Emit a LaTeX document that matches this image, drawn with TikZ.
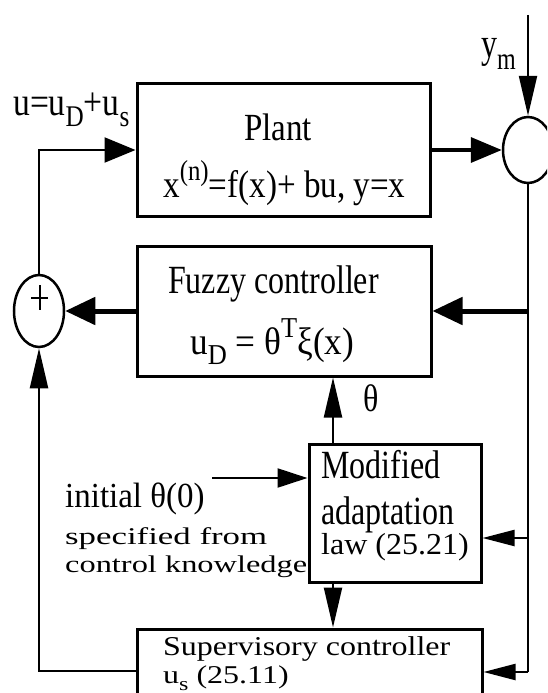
\documentclass[tikz,border=0pt]{standalone}
\usepackage{graphicx}
\usepackage{fontspec}
\setmainfont{Liberation Serif}
\usetikzlibrary{arrows.meta,shapes.geometric}
\newcommand\vstr[2][1.2]{\scalebox{1}[#1]{#2}}
\newcommand\wstr[3]{\scalebox{#1}[#2]{#3}}
\newcommand\mysub[1]{\raisebox{-0.28em}{\fontsize{24}{24}\selectfont #1}}
\newcommand\mysup[1]{\raisebox{0.42em}{\fontsize{24}{24}\selectfont #1}}
\begin{document}
\begin{tikzpicture}[x=1pt,y=-1pt,
  blk/.style={draw, line width=3pt, inner sep=0pt},
  sumnode/.style={draw, ellipse, line width=2.5pt, inner sep=0pt},
  thinln/.style={line width=2.2pt},
  thickln/.style={line width=5pt},
  midln/.style={line width=3.5pt},
  ha/.style={-{Triangle[length=31pt,width=25pt]}},
  hb/.style={-{Triangle[length=30pt,width=27pt]}},
  sa/.style={-{Triangle[length=32pt,width=16pt]}},
  va/.style={-{Triangle[length=40pt,width=18pt]}},
  txt/.style={font=\fontsize{32}{32}\selectfont, inner sep=0pt, anchor=base west},
  stxt/.style={font=\fontsize{24}{24}\selectfont, inner sep=0pt, anchor=base west}]
\clip (0,0) rectangle (547,693);
\fill[white] (0,0) rectangle (547,693);

% blocks
\node[blk, minimum width=293pt, minimum height=133pt] (plant) at (283.5,150) {};
\node[blk, minimum width=294pt, minimum height=130pt] (fuzzy) at (284,311) {};
\node[blk, minimum width=172pt, minimum height=138pt] (adapt) at (395,513) {};
\node[blk, minimum width=345pt, minimum height=120pt] (super) at (309.5,689) {};
\node[sumnode, minimum width=50pt, minimum height=66pt] (cmp) at (528,150) {};
\node[sumnode, minimum width=50pt, minimum height=72pt] (sum) at (39,311) {};
\draw[line width=2pt] (31,298) -- (48,298) (39.5,285) -- (39.5,310);

% helper coordinates
\coordinate (ymtop) at (528,15);
\coordinate (rbend) at (528,672);
\coordinate (adin) at (528,538);
\coordinate (lbot) at (39,671);
\coordinate (ltop) at (39,150);
\coordinate (init) at (212,478);
\coordinate (tx) at (333,0);

% connectors
\draw[thinln, va] (ymtop) -- (cmp.north);
\draw[midln, ha] (plant.east) -- (cmp.west);
\draw[thinln] (cmp.south) -- (rbend);
\draw[thickln, hb] (fuzzy.east -| rbend) -- (fuzzy.east);
\draw[thickln, hb] (fuzzy.west) -- (sum.east);
\draw[thinln, sa] (adin) -- (adin -| adapt.east);
\draw[thinln, sa] (rbend) -- (rbend -| super.east);
\draw[thinln, va] (adapt.north -| tx) -- (fuzzy.south -| tx);
\draw[thinln, va] (adapt.south -| tx) -- (super.north -| tx);
\draw[thinln, {-Triangle[length=30pt,width=19pt]}] (init) -- (init -| adapt.west);
\draw[thinln, va] (lbot -| super.west) -- (lbot) -- (sum.south);
\draw[thinln, ha] (sum.north) -- (ltop) -- (plant.west);

% texts
\node[txt] (ulab) at (13,115) {\wstr{1.05}{1.25}{u=u\mysub{D}+u\mysub{s}}};
\node[txt] (ym) at (481,58) {\vstr[1.3]{y\mysub{m}}};
\node[txt, anchor=base] (pl1) at (278,140) {\wstr{1.03}{1.2}{Plant}};
\node[txt] (pl2) at (163,197) {\wstr{1.035}{1.2}{x\mysup{(n)}=f(x)+ bu, y=x}};
\node[txt] (fz1) at (168,293) {\vstr[1.25]{Fuzzy controller}};
\node[txt] (fz2) at (190,354) {\wstr{1.1}{1.2}{u\mysub{D} = θ\mysup{T}ξ(x)}};
\node[txt] (th) at (363,411) {\vstr[1.2]{θ}};
\node[txt] (ad1) at (321,478) {\vstr[1.25]{Modified}};
\node[txt] (ad2) at (321,524) {\vstr[1.25]{adaptation}};
\node[txt] (ad3) at (321,554) {\vstr[0.95]{law (25.21)}};
\node[txt] (in1) at (65,507) {\wstr{1.03}{1.1}{initial θ(0)}};
\node[stxt] (in2) at (65,544) {\wstr{1.45}{1.0}{specified from}};
\node[stxt] (in3) at (65,572) {\wstr{1.35}{1.0}{control knowledge}};
\node[txt] (su1) at (163,655) {\vstr[0.85]{Supervisory controller}};
\node[txt] (su2) at (163,683) {\vstr[0.8]{u\mysub{s} (25.11)}};
\end{tikzpicture}
\end{document}
